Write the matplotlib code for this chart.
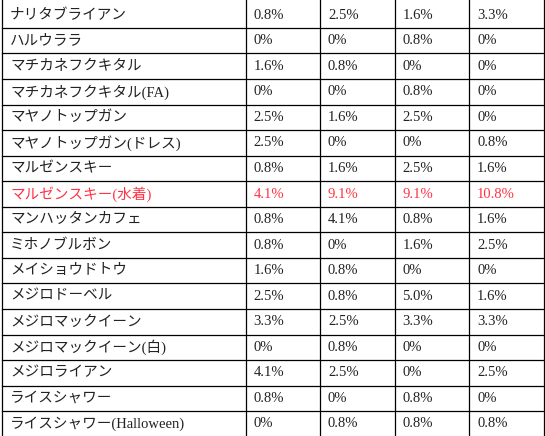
import matplotlib
matplotlib.use("Agg")
import matplotlib.pyplot as plt

names = ["ナリタブライアン", "ハルウララ", "マチカネフクキタル", "マチカネフクキタル(FA)",
         "マヤノトップガン", "マヤノトップガン(ドレス)", "マルゼンスキー", "マルゼンスキー(水着)",
         "マンハッタンカフェ", "ミホノブルボン", "メイショウドトウ", "メジロドーベル",
         "メジロマックイーン", "メジロマックイーン(白)", "メジロライアン", "ライスシャワー",
         "ライスシャワー(Halloween)"]
col1 = ["0.8%", "0%", "1.6%", "0%", "2.5%", "2.5%", "0.8%", "4.1%", "0.8%", "0.8%", "1.6%", "2.5%", "3.3%", "0%", "4.1%", "0.8%", "0%"]
col2 = ["2.5%", "0%", "0.8%", "0%", "1.6%", "0%", "1.6%", "9.1%", "4.1%", "0%", "0.8%", "0.8%", "2.5%", "0.8%", "2.5%", "0%", "0.8%"]
col3 = ["1.6%", "0.8%", "0%", "0.8%", "2.5%", "0%", "2.5%", "9.1%", "0.8%", "1.6%", "0%", "5.0%", "3.3%", "0%", "0%", "0.8%", "0.8%"]
col4 = ["3.3%", "0%", "0%", "0%", "0%", "0.8%", "1.6%", "10.8%", "1.6%", "2.5%", "0%", "1.6%", "3.3%", "0%", "2.5%", "0%", "0.8%"]
highlight = "マルゼンスキー(水着)"

W, H = 545, 436
fig = plt.figure(figsize=(W/100, H/100), dpi=100)
ax = fig.add_axes([0, 0, 1, 1])
ax.set_xlim(0, W); ax.set_ylim(H, 0); ax.axis("off")

xs = [2, 245.5, 320, 394.5, 469, 543.5]
top = 2.4
rh = 25.55
n = len(names)
fam = ["Liberation Serif", "Noto Sans CJK JP", "DejaVu Sans"]
for x in xs:
    ax.plot([x, x], [-5, top + n*rh], color="black", lw=0.9)
for i in range(1, n+1):
    y = top + i*rh
    ax.plot([xs[0], xs[-1]], [y, y], color="black", lw=0.9)
for i, nm in enumerate(names):
    yc = top + (i+0.5)*rh
    c = "#ff3344" if nm == highlight else "#222222"
    vals = [nm, col1[i], col2[i], col3[i], col4[i]]
    for j, v in enumerate(vals):
        ax.text(xs[j] + 8, yc, v, va="center", ha="left", fontsize=10.5,
                family=fam, color=c)
fig.savefig("out.png", dpi=100)
